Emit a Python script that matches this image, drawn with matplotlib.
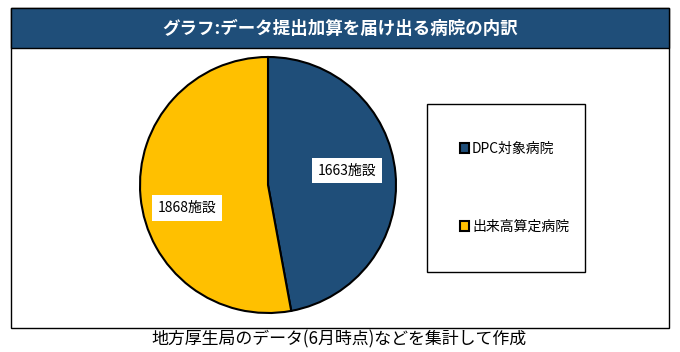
import matplotlib.pyplot as plt
from matplotlib.patches import Rectangle

plt.rcParams['font.family'] = ['Noto Sans CJK JP', 'DejaVu Sans']

# データ
labels = ['DPC対象病院', '出来高算定病院']
counts = [1663, 1868]
colors = ['#1F4E79', '#FFC000']
title = 'グラフ:データ提出加算を届け出る病院の内訳'
note = '地方厚生局のデータ(6月時点)などを集計して作成'

W, H = 680, 352
fig = plt.figure(figsize=(W / 100, H / 100), dpi=100)

def fx(px):  # ピクセル -> figure座標
    return px / W

def fy(py):
    return 1 - py / H

# 外枠とタイトル帯
fig.patches.append(Rectangle((fx(11), fy(328)), fx(669) - fx(11), fy(8) - fy(328),
                             transform=fig.transFigure, facecolor='white',
                             edgecolor='black', linewidth=1.0, zorder=-2))
fig.patches.append(Rectangle((fx(11), fy(48)), fx(669) - fx(11), fy(8) - fy(48),
                             transform=fig.transFigure, facecolor='#1F4E79',
                             edgecolor='black', linewidth=1.0, zorder=-1))
fig.text(fx(340), fy(29), title, color='white', fontsize=12.6, fontweight='bold',
         ha='center', va='center')

# 円グラフ
ax = fig.add_axes([fx(140), fy(313), fx(396) - fx(140), fy(57) - fy(313)])
ax.set_zorder(2)
wedges, _ = ax.pie(counts, colors=colors, startangle=90, counterclock=False,
                   wedgeprops=dict(edgecolor='black', linewidth=1.5, clip_on=False))
ax.set_xlim(-1, 1)
ax.set_ylim(-1, 1)
ax.set_aspect('equal')

ax.text(0.62, 0.11, f'{counts[0]}施設', fontsize=10, ha='center', va='center',
        bbox=dict(facecolor='white', edgecolor='none', pad=4))
ax.text(-0.63, -0.18, f'{counts[1]}施設', fontsize=10, ha='center', va='center',
        bbox=dict(facecolor='white', edgecolor='none', pad=4))

# 凡例
fig.patches.append(Rectangle((fx(427), fy(272)), fx(585) - fx(427), fy(104) - fy(272),
                             transform=fig.transFigure, facecolor='white',
                             edgecolor='black', linewidth=1.0, zorder=-1))
fig.legend(wedges, labels, loc='center left', bbox_to_anchor=(fx(447), fy(188)),
           frameon=False, fontsize=10, labelspacing=4.6, handlelength=0.7,
           handleheight=0.7, handletextpad=0.2)

# 注記
fig.text(fx(339), fy(339), note, fontsize=12.2, ha='center', va='center')

fig.savefig('out.png', dpi=100)
